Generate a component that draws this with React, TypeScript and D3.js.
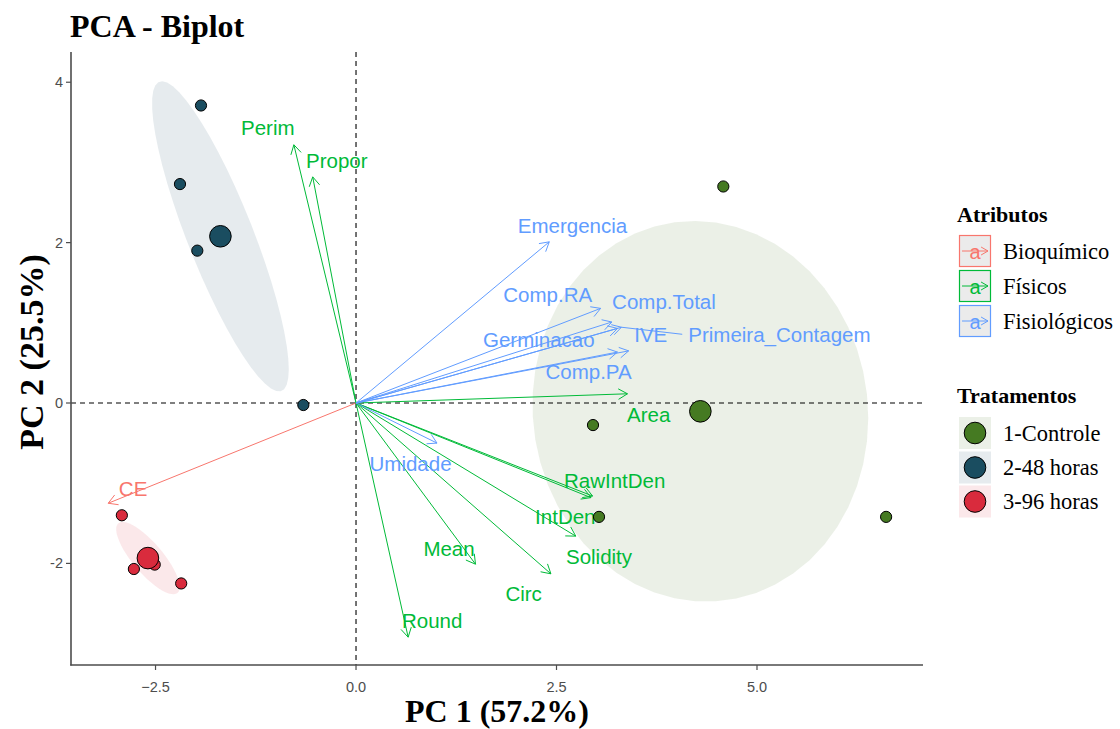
import React from "react";
import * as d3 from "d3";

// ---------- data ----------
const groupNames = ["1-Controle", "2-48 horas", "3-96 horas"];
const groupColors = ["#457A22", "#1A4D60", "#D92B3D"];

// individuals (PC1, PC2) by group index
const indGroup = [0, 0, 0, 0, 1, 1, 1, 1, 2, 2, 2, 2];
const indPC1 = [4.58, 2.955, 3.03, 6.61, -1.933, -2.195, -1.979, -0.657, -2.92, -2.77, -2.18, -2.51];
const indPC2 = [2.70, -0.275, -1.42, -1.42, 3.71, 2.73, 1.90, -0.025, -1.40, -2.07, -2.25, -2.015];

// variables
const attrNames = ["Bioquímico", "Físicos", "Fisiológicos"];
const attrColors = ["#F8766D", "#00BA38", "#619CFF"];
const varNames = [
  "CE", "Perim", "Propor", "Area", "RawIntDen", "IntDen", "Solidity", "Mean", "Circ", "Round",
  "Emergencia", "Comp.RA", "Comp.Total", "IVE", "Primeira_Contagem", "Germinacao", "Comp.PA", "Umidade",
];
const varAttr = [0, 1, 1, 1, 1, 1, 1, 1, 1, 1, 2, 2, 2, 2, 2, 2, 2, 2];
const varPC1 = [-3.09, -0.775, -0.54, 3.385, 2.95, 2.93, 2.74, 1.49, 2.43, 0.65, 2.41, 3.05, 3.19, 3.26, 3.31, 3.26, 3.40, 1.01];
const varPC2 = [-1.25, 3.22, 2.82, 0.115, -1.16, -1.18, -1.66, -2.01, -2.13, -2.92, 2.01, 1.18, 1.01, 0.93, 0.945, 0.635, 0.65, -0.50];
// repelled label positions
const labPC1 = [-2.78, -1.10, -0.24, 3.65, 3.225, 2.61, 3.03, 1.16, 2.09, 0.95, 2.70, 2.39, 3.84, 3.675, 5.28, 2.28, 2.90, 0.68];
const labPC2 = [-1.06, 3.43, 3.02, -0.14, -0.97, -1.42, -1.92, -1.82, -2.37, -2.71, 2.21, 1.355, 1.26, 0.857, 0.857, 0.794, 0.39, -0.75];

const xTicks = [-2.5, 0, 2.5, 5];
const yTicks = [-2, 0, 2, 4];
const xDomain = [-3.554, 7.07];
const yDomain = [-3.267, 4.377];
const ellipseRadius = 1.22;

const SANS = "'Liberation Sans', Arial, sans-serif";
const SERIF = "'Liberation Serif', 'Times New Roman', serif";

function ellipsePath(xs: number[], ys: number[], sx: any, sy: any) {
  const n = xs.length;
  const mx = d3.mean(xs)!;
  const my = d3.mean(ys)!;
  let a = 0, b = 0, c = 0;
  for (let i = 0; i < n; i++) {
    a += (xs[i] - mx) ** 2;
    b += (xs[i] - mx) * (ys[i] - my);
    c += (ys[i] - my) ** 2;
  }
  a /= n - 1; b /= n - 1; c /= n - 1;
  const r11 = Math.sqrt(a), r12 = b / r11, r22 = Math.sqrt(c - r12 * r12);
  const pts: [number, number][] = d3.range(0, 52).map((i) => {
    const t = (i / 51) * 2 * Math.PI;
    const u = Math.cos(t), v = Math.sin(t);
    return [sx(mx + ellipseRadius * u * r11), sy(my + ellipseRadius * (u * r12 + v * r22))];
  });
  return d3.line()(pts)! + "Z";
}

function arrowHead(x1: number, y1: number, x2: number, y2: number, len = 10.5, ang = Math.PI / 6) {
  const th = Math.atan2(y2 - y1, x2 - x1);
  const p1 = [x2 - len * Math.cos(th - ang), y2 - len * Math.sin(th - ang)];
  const p2 = [x2 - len * Math.cos(th + ang), y2 - len * Math.sin(th + ang)];
  return `M${p1[0]},${p1[1]}L${x2},${y2}L${p2[0]},${p2[1]}`;
}

export default function App() {
  const W = 1120, H = 729;
  const sx = d3.scaleLinear().domain(xDomain).range([71, 923]);
  const sy = d3.scaleLinear().domain(yDomain).range([665, 52]);
  const x0 = sx(0), y0 = sy(0);

  const groups = groupNames.map((_, g) => {
    const idx = indGroup.map((gg, i) => (gg === g ? i : -1)).filter((i) => i >= 0);
    const xs = idx.map((i) => indPC1[i]);
    const ys = idx.map((i) => indPC2[i]);
    return { xs, ys, mx: d3.mean(xs)!, my: d3.mean(ys)! };
  });

  const legX = 959;
  const attrKeyY = [235, 270, 305];
  const trtKeyY = [417, 451.5, 485.5];

  return (
    <svg width={W} height={H} style={{ position: "absolute", left: 0, top: 0, background: "#fff" }}>
      {/* ellipses */}
      {groups.map((g, i) => (
        <path key={"e" + i} d={ellipsePath(g.xs, g.ys, sx, sy)} fill={groupColors[i]} fillOpacity={0.11} stroke="none" />
      ))}
      {/* reference lines */}
      <line x1={x0} x2={x0} y1={52} y2={665} stroke="#000" strokeWidth={1.1} strokeDasharray="5,4" />
      <line x1={71} x2={923} y1={y0} y2={y0} stroke="#000" strokeWidth={1.1} strokeDasharray="5,4" />

      {/* arrows */}
      {varNames.map((v, i) => {
        const tx = sx(varPC1[i]), ty = sy(varPC2[i]);
        const col = attrColors[varAttr[i]];
        return (
          <g key={"a" + v} stroke={col} fill="none" strokeWidth={1}>
            <line x1={x0} y1={y0} x2={tx} y2={ty} />
            <path d={arrowHead(x0, y0, tx, ty)} />
          </g>
        );
      })}
      {/* labels */}
      {varNames.map((v, i) => {
        const tx = sx(varPC1[i]), ty = sy(varPC2[i]);
        const lx = sx(labPC1[i]), ly = sy(labPC2[i]);
        const col = attrColors[varAttr[i]];
        const hw = v.length * 5.6;
        const gap = Math.abs(lx - tx) - hw;
        return (
          <g key={"l" + v}>
            {gap > 30 && (
              <line x1={tx} y1={ty} x2={lx > tx ? lx - hw - 2 : lx + hw + 2} y2={ly} stroke={col} strokeWidth={1} />
            )}
            <text x={lx} y={ly} fill={col} fontFamily={SANS} fontSize={20.5} textAnchor="middle" dominantBaseline="central">
              {v}
            </text>
          </g>
        );
      })}

      {/* individuals */}
      {indPC1.map((v, i) => (
        <circle key={"p" + i} cx={sx(v)} cy={sy(indPC2[i])} r={5.6} fill={groupColors[indGroup[i]]} stroke="#000" strokeWidth={1} />
      ))}
      {groups.map((g, i) => (
        <circle key={"m" + i} cx={sx(g.mx)} cy={sy(g.my)} r={10.8} fill={groupColors[i]} stroke="#000" strokeWidth={1} />
      ))}

      {/* axes */}
      <line x1={71} x2={71} y1={52} y2={665.5} stroke="#4D4D4D" strokeWidth={1.6} />
      <line x1={70.2} x2={923} y1={665} y2={665} stroke="#4D4D4D" strokeWidth={1.6} />
      {xTicks.map((t) => (
        <g key={"xt" + t}>
          <line x1={sx(t)} x2={sx(t)} y1={665} y2={670} stroke="#4D4D4D" strokeWidth={1.2} />
          <text x={sx(t)} y={692} fill="#4D4D4D" fontFamily={SANS} fontSize={14.5} textAnchor="middle">
            {d3.format(".1f")(t)}
          </text>
        </g>
      ))}
      {yTicks.map((t) => (
        <g key={"yt" + t}>
          <line x1={66} x2={71} y1={sy(t)} y2={sy(t)} stroke="#4D4D4D" strokeWidth={1.2} />
          <text x={63} y={sy(t)} fill="#4D4D4D" fontFamily={SANS} fontSize={14.5} textAnchor="end" dominantBaseline="central">
            {String(t)}
          </text>
        </g>
      ))}

      {/* titles */}
      <text x={70} y={37} fontFamily={SERIF} fontWeight="bold" fontSize={32} fill="#000">PCA - Biplot</text>
      <text x={497} y={722} fontFamily={SERIF} fontWeight="bold" fontSize={32} fill="#000" textAnchor="middle">PC 1 (57.2%)</text>
      <text transform={`translate(43,352) rotate(-90)`} fontFamily={SERIF} fontWeight="bold" fontSize={34} fill="#000" textAnchor="middle">PC 2 (25.5%)</text>

      {/* legend: Atributos */}
      <text x={957} y={222} fontFamily={SERIF} fontWeight="bold" fontSize={22} fill="#000">Atributos</text>
      {attrNames.map((n, i) => {
        const ky = attrKeyY[i];
        const col = attrColors[i];
        return (
          <g key={"la" + n}>
            <rect x={legX + 0.5} y={ky + 0.5} width={31} height={31} fill="#EBEBEB" stroke={col} strokeWidth={1.2} />
            <text x={legX + 16} y={ky + 17} fill={col} fontFamily={SANS} fontSize={20} textAnchor="middle" dominantBaseline="central">a</text>
            <line x1={legX + 3} x2={legX + 29} y1={ky + 16} y2={ky + 16} stroke={col} strokeWidth={1} />
            <path d={arrowHead(legX + 3, ky + 16, legX + 29, ky + 16, 8)} stroke={col} fill="none" strokeWidth={1} />
            <text x={1003} y={ky + 16} fontFamily={SERIF} fontSize={22.5} fill="#000" dominantBaseline="central">{n}</text>
          </g>
        );
      })}

      {/* legend: Tratamentos */}
      <text x={957} y={403} fontFamily={SERIF} fontWeight="bold" fontSize={22} fill="#000">Tratamentos</text>
      {groupNames.map((n, i) => {
        const ky = trtKeyY[i];
        return (
          <g key={"lt" + n}>
            <rect x={legX} y={ky} width={32} height={32} fill={groupColors[i]} fillOpacity={0.11} />
            <circle cx={legX + 16} cy={ky + 16} r={10.8} fill={groupColors[i]} stroke="#000" strokeWidth={1} />
            <text x={1003} y={ky + 16} fontFamily={SERIF} fontSize={22.5} fill="#000" dominantBaseline="central">{n}</text>
          </g>
        );
      })}
    </svg>
  );
}
